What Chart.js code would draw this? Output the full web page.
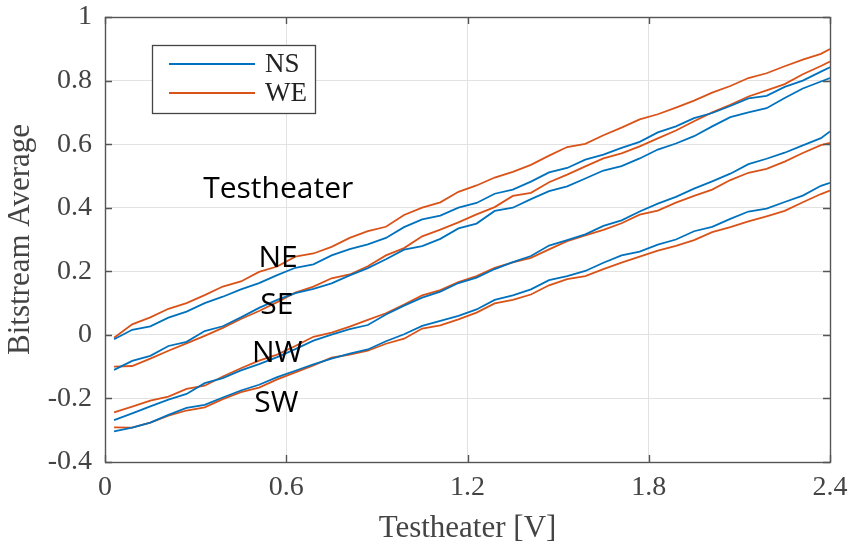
<!DOCTYPE html>
<html>
<head>
<meta charset="utf-8">
<script src="https://cdn.jsdelivr.net/npm/chart.js@4.4.1/dist/chart.umd.min.js"></script>
<style>
  html, body { margin: 0; padding: 0; background: #fff; }
  #wrap { width: 849px; height: 550px; }
</style>
</head>
<body>
<div id="wrap"><canvas id="c" width="849" height="550"></canvas></div>
<script>
// Testheater sweep: bitstream average per sensor position, NS vs WE orientation.
var voltage = [0.03, 0.09, 0.15, 0.21, 0.27, 0.33, 0.39, 0.45, 0.51, 0.57, 0.63, 0.69, 0.75, 0.81,
  0.87, 0.93, 0.99, 1.05, 1.11, 1.17, 1.23, 1.29, 1.35, 1.41, 1.47, 1.53, 1.59, 1.65, 1.71, 1.77,
  1.83, 1.89, 1.95, 2.01, 2.07, 2.13, 2.19, 2.25, 2.31, 2.37, 2.4];

var neWE = [-0.009, 0.033, 0.055, 0.082, 0.100, 0.125, 0.152, 0.168, 0.198, 0.215, 0.246, 0.256, 0.277, 0.305,
  0.326, 0.340, 0.377, 0.400, 0.417, 0.450, 0.470, 0.495, 0.513, 0.535, 0.564, 0.591, 0.601, 0.628, 0.652, 0.678,
  0.694, 0.715, 0.737, 0.762, 0.783, 0.808, 0.823, 0.845, 0.866, 0.884, 0.899];
var neNS = [-0.014, 0.016, 0.027, 0.054, 0.073, 0.100, 0.120, 0.143, 0.163, 0.188, 0.211, 0.222, 0.250, 0.270,
  0.285, 0.305, 0.339, 0.363, 0.375, 0.400, 0.415, 0.444, 0.457, 0.482, 0.511, 0.525, 0.551, 0.567, 0.588, 0.607,
  0.637, 0.656, 0.682, 0.698, 0.720, 0.744, 0.752, 0.780, 0.800, 0.828, 0.842];
var seWE = [-0.100, -0.098, -0.075, -0.050, -0.027, -0.003, 0.022, 0.050, 0.075, 0.103, 0.133, 0.152, 0.178, 0.190,
  0.216, 0.250, 0.273, 0.310, 0.331, 0.354, 0.379, 0.402, 0.437, 0.447, 0.480, 0.504, 0.530, 0.555, 0.571, 0.593,
  0.618, 0.643, 0.672, 0.700, 0.724, 0.750, 0.769, 0.789, 0.820, 0.846, 0.860];
var seNS = [-0.110, -0.082, -0.066, -0.035, -0.022, 0.012, 0.027, 0.055, 0.085, 0.110, 0.131, 0.145, 0.162, 0.187,
  0.210, 0.238, 0.268, 0.279, 0.302, 0.335, 0.350, 0.390, 0.400, 0.427, 0.452, 0.467, 0.492, 0.517, 0.531, 0.555,
  0.583, 0.602, 0.625, 0.656, 0.685, 0.700, 0.713, 0.745, 0.775, 0.797, 0.808];
var nwWE = [-0.244, -0.226, -0.207, -0.194, -0.170, -0.160, -0.131, -0.105, -0.081, -0.062, -0.035, -0.006, 0.007, 0.026,
  0.047, 0.068, 0.095, 0.124, 0.141, 0.166, 0.185, 0.211, 0.228, 0.242, 0.269, 0.295, 0.313, 0.330, 0.351, 0.378,
  0.391, 0.416, 0.437, 0.457, 0.487, 0.510, 0.522, 0.545, 0.572, 0.597, 0.604];
var nwNS = [-0.268, -0.247, -0.225, -0.204, -0.186, -0.152, -0.136, -0.112, -0.092, -0.070, -0.045, -0.018, 0.001, 0.018,
  0.031, 0.064, 0.092, 0.117, 0.136, 0.163, 0.180, 0.207, 0.229, 0.248, 0.281, 0.298, 0.316, 0.343, 0.360, 0.388,
  0.413, 0.434, 0.460, 0.483, 0.507, 0.537, 0.554, 0.573, 0.596, 0.619, 0.640];
var swWE = [-0.291, -0.292, -0.276, -0.254, -0.238, -0.228, -0.202, -0.180, -0.166, -0.140, -0.118, -0.096, -0.072, -0.062,
  -0.050, -0.028, -0.012, 0.020, 0.030, 0.049, 0.070, 0.099, 0.110, 0.127, 0.156, 0.175, 0.185, 0.207, 0.227, 0.246,
  0.265, 0.280, 0.298, 0.323, 0.339, 0.357, 0.373, 0.390, 0.417, 0.443, 0.454];
var swNS = [-0.304, -0.292, -0.276, -0.252, -0.230, -0.220, -0.197, -0.175, -0.157, -0.133, -0.113, -0.093, -0.075, -0.059,
  -0.046, -0.020, 0.002, 0.028, 0.044, 0.060, 0.080, 0.110, 0.124, 0.143, 0.172, 0.185, 0.201, 0.227, 0.250, 0.262,
  0.284, 0.300, 0.326, 0.340, 0.365, 0.388, 0.397, 0.418, 0.438, 0.469, 0.478];

var xTicks = [0, 0.6, 1.2, 1.8, 2.4];
var yTicks = [-0.4, -0.2, 0, 0.2, 0.4, 0.6, 0.8, 1];

// text labels written inside the plot, placed in data units (left edge, baseline)
var noteText = ['Testheater', 'NE', 'SE', 'NW', 'SW'];
var noteX = [0.325, 0.508, 0.514, 0.487, 0.494];
var noteY = [0.432, 0.215, 0.065, -0.086, -0.243];

var BLUE = '#0072BD';
var ORANGE = '#D95319';
var SERIF = '"Liberation Serif", "DejaVu Serif", serif';

function pts(ys) {
  var arr = [];
  for (var i = 0; i < voltage.length; i++) arr.push({ x: voltage[i], y: ys[i] });
  return arr;
}

function line(label, ys, color) {
  return {
    label: label,
    data: pts(ys),
    borderColor: color,
    backgroundColor: color,
    borderWidth: 1.8,
    pointRadius: 0,
    tension: 0,
    fill: false
  };
}

function fmt(v) {
  return String(Math.round(v * 10) / 10);
}

var boxPlugin = {
  id: 'matlabBox',
  afterDraw: function (chart) {
    var ctx = chart.ctx;
    var a = chart.chartArea;
    var xs = chart.scales.x, ys = chart.scales.y;
    ctx.save();
    ctx.strokeStyle = '#555';
    ctx.lineWidth = 1.4;
    // inward tick marks
    ctx.beginPath();
    xTicks.forEach(function (t) {
      var px = Math.round(xs.getPixelForValue(t)) + 0.5;
      ctx.moveTo(px, a.bottom); ctx.lineTo(px, a.bottom - 7);
      ctx.moveTo(px, a.top); ctx.lineTo(px, a.top + 7);
    });
    yTicks.forEach(function (t) {
      var py = Math.round(ys.getPixelForValue(t)) + 0.5;
      ctx.moveTo(a.left, py); ctx.lineTo(a.left + 7, py);
      ctx.moveTo(a.right, py); ctx.lineTo(a.right - 7, py);
    });
    ctx.stroke();
    ctx.strokeRect(Math.round(a.left) + 0.5, Math.round(a.top) + 0.5,
      Math.round(a.right - a.left), Math.round(a.bottom - a.top));

    // legend box
    var lx = a.left + 47, ly = a.top + 28;
    ctx.fillStyle = '#fff';
    ctx.fillRect(lx, ly, 163, 68);
    ctx.strokeStyle = '#444';
    ctx.lineWidth = 1.3;
    ctx.strokeRect(lx + 0.5, ly + 0.5, 163, 68);
    var entries = [{ t: chart.data.datasets[0].label, c: BLUE }, { t: chart.data.datasets[1].label, c: ORANGE }];
    entries.forEach(function (e, i) {
      var yy = ly + 19 + i * 29;
      ctx.strokeStyle = e.c;
      ctx.lineWidth = 1.8;
      ctx.beginPath();
      ctx.moveTo(lx + 17, yy); ctx.lineTo(lx + 103, yy);
      ctx.stroke();
      ctx.fillStyle = '#222';
      ctx.font = '27px ' + SERIF;
      ctx.textBaseline = 'middle';
      ctx.textAlign = 'left';
      ctx.fillText(e.t, lx + 113, yy + 1);
    });

    // in-plot notes
    ctx.fillStyle = '#000';
    ctx.font = '30px "Open Sans", "Noto Sans", sans-serif';
    ctx.textBaseline = 'alphabetic';
    ctx.textAlign = 'left';
    for (var i = 0; i < noteText.length; i++) {
      ctx.fillText(noteText[i], xs.getPixelForValue(noteX[i]), ys.getPixelForValue(noteY[i]));
    }
    ctx.restore();
  }
};

new Chart(document.getElementById('c').getContext('2d'), {
  type: 'line',
  data: {
    datasets: [
      line('NS', neNS, BLUE),
      line('WE', neWE, ORANGE),
      line('NS', seNS, BLUE),
      line('WE', seWE, ORANGE),
      line('NS', nwNS, BLUE),
      line('WE', nwWE, ORANGE),
      line('NS', swNS, BLUE),
      line('WE', swWE, ORANGE)
    ]
  },
  options: {
    responsive: false,
    animation: false,
    devicePixelRatio: 1,
    layout: { padding: { left: 0, right: 19, top: 17, bottom: 0 } },
    plugins: { legend: { display: false }, tooltip: { enabled: false } },
    scales: {
      x: {
        type: 'linear',
        min: 0,
        max: 2.4,
        afterFit: function (scale) {
          scale.height = 88;
          scale.paddingLeft = 0;
          scale.paddingRight = 0;
        },
        afterBuildTicks: function (scale) {
          scale.ticks = xTicks.map(function (v) { return { value: v }; });
        },
        ticks: {
          callback: fmt,
          color: '#444',
          font: { family: SERIF, size: 28, lineHeight: 1.2 },
          padding: 9,
          maxRotation: 0
        },
        grid: { color: '#e2e2e2', lineWidth: 1, drawTicks: false },
        border: { display: false },
        title: {
          display: true,
          text: 'Testheater [V]',
          color: '#444',
          font: { family: SERIF, size: 31, lineHeight: 1.2 },
          padding: { top: 0, bottom: 3 }
        }
      },
      y: {
        type: 'linear',
        min: -0.4,
        max: 1,
        afterFit: function (scale) {
          scale.width = 105;
          scale.paddingTop = 0;
          scale.paddingBottom = 0;
        },
        afterBuildTicks: function (scale) {
          scale.ticks = yTicks.map(function (v) { return { value: v }; });
        },
        ticks: {
          callback: fmt,
          color: '#444',
          font: { family: SERIF, size: 28, lineHeight: 1.2 },
          padding: 13
        },
        grid: { color: '#e2e2e2', lineWidth: 1, drawTicks: false },
        border: { display: false },
        title: {
          display: true,
          text: 'Bitstream Average',
          color: '#444',
          font: { family: SERIF, size: 31, lineHeight: 1.2 },
          padding: { top: 2, bottom: 0 }
        }
      }
    }
  },
  plugins: [boxPlugin]
});
</script>
</body>
</html>
